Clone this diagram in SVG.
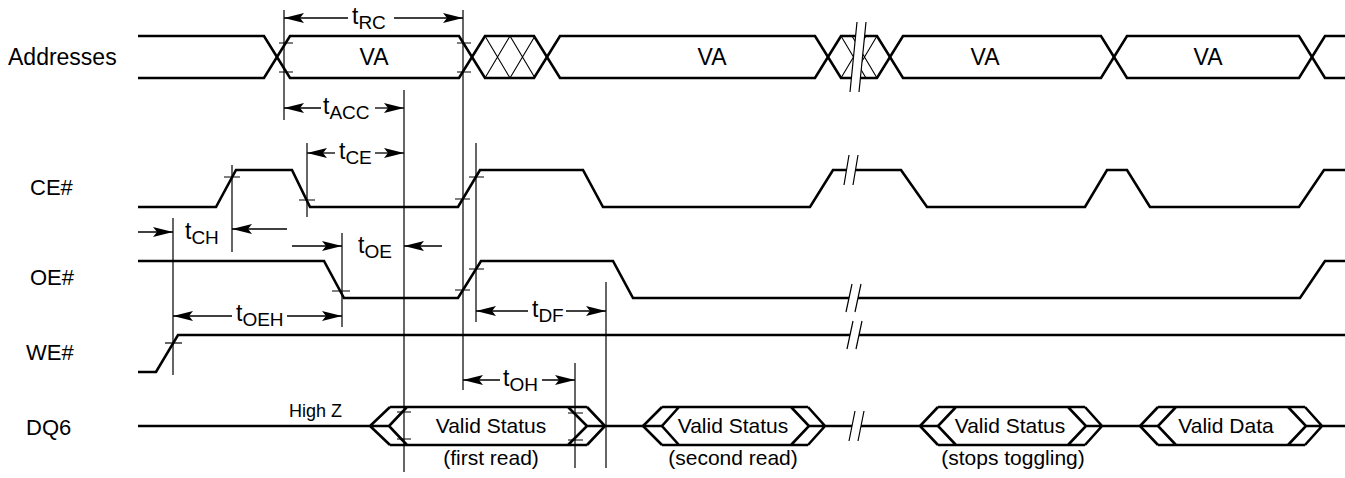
<svg xmlns="http://www.w3.org/2000/svg" width="1345" height="478" viewBox="0 0 1345 478">
<style>
.w{fill:none;stroke:#000;stroke-width:2.6;stroke-linejoin:miter;stroke-linecap:butt}
.h{fill:none;stroke:#000;stroke-width:1.1}
.t{fill:none;stroke:#000;stroke-width:1.2}
.a{fill:none;stroke:#000;stroke-width:1.3;marker-end:url(#ah)}
.lbl{font-family:"Liberation Sans",Arial,Helvetica,sans-serif;font-size:22px;fill:#000}
.tx{font-family:"Liberation Sans",Arial,Helvetica,sans-serif;font-size:21px;fill:#000;text-anchor:middle}
.va{font-family:"Liberation Sans",Arial,Helvetica,sans-serif;font-size:23px;fill:#000;text-anchor:middle}
.tt{font-family:"Liberation Sans",Arial,Helvetica,sans-serif;font-size:23px;fill:#000}
.sub{font-size:19px}
.bk{fill:#fff;stroke:none}
</style>
<defs>
<marker id="ah" viewBox="0 0 20 10" refX="20" refY="5" markerWidth="20" markerHeight="10" markerUnits="userSpaceOnUse" orient="auto">
<path d="M0,0 L20,5 L0,10 L4,5 z" fill="#000"/>
</marker>
</defs>
<rect width="1345" height="478" fill="#fff"/>

<g id="labels">
<text class="lbl" x="8" y="65" style="font-size:23px">Addresses</text>
<text class="lbl" x="30" y="195">CE#</text>
<text class="lbl" x="30" y="285">OE#</text>
<text class="lbl" x="26" y="360">WE#</text>
<text class="lbl" x="26" y="435">DQ6</text>
</g>

<g id="addresses">
<path class="h" d="M485,36 L510,78 M510,36 L485,78 M510,36 L535,78 M535,36 L510,78"/>
<path class="h" d="M841,36 L866,78 M866,36 L841,78 M852,36 L877,78 M877,36 L852,78"/>
<polyline class="w" points="138,36 264,36 290,78 459,78 485,36 534,36 560,78 815,78 841,36 877,36 903,78 1101,78 1127,36 1299,36 1325,78 1345,78"/>
<polyline class="w" points="138,78 264,78 290,36 459,36 485,78 534,78 560,36 815,36 841,78 877,78 903,36 1101,36 1127,78 1299,78 1325,36 1345,36"/>
<polygon class="bk" points="857,22 866,22 859,92 850,92"/>
<path class="t" d="M857,22 L850,92 M866,22 L859,92"/>
<path class="t" d="M279,43 H293 M279,72 H293 M457,43 H471 M457,72 H471"/>
<text class="va" x="374" y="65">VA</text>
<text class="va" x="712" y="65">VA</text>
<text class="va" x="985" y="65">VA</text>
<text class="va" x="1208" y="65">VA</text>
</g>

<g id="ce">
<polyline class="w" points="138,207 216,207 236,170 292,170 310,207 458,207 480,170 583,170 603,207 810,207 833,170 901,170 927,207 1085,207 1107,170 1127,170 1150,207 1299,207 1324,170 1345,170"/>
<polygon class="bk" points="849,155 858,155 853,185 844,185"/>
<path class="t" d="M849,155 L844,185 M858,155 L853,185"/>
<path class="t" d="M224,177 H240 M299,200 H315 M455,199 H470 M469,177 H484"/>
</g>

<g id="oe">
<polyline class="w" points="138,261 324,261 344,298 458,298 481,261 613,261 633,298 1300,298 1325,261 1345,261"/>
<polygon class="bk" points="852,284 861,284 855,312 846,312"/>
<path class="t" d="M852,284 L846,312 M861,284 L855,312"/>
<path class="t" d="M332,291 H350 M455,290 H470 M469,269 H484"/>
</g>

<g id="we">
<polyline class="w" points="138,372 156,372 178,335 1345,335"/>
<polygon class="bk" points="853,321 862,321 856,349 847,349"/>
<path class="t" d="M853,321 L847,349 M862,321 L856,349"/>
<path class="t" d="M165,343 H182"/>
</g>

<g id="dq6">
<path class="w" d="M138,426 H389 M390,407 L370,426 L390,445 M407,407 L389,426 L407,445 M390,407 H587 M390,445 H587 M568,407 L587,426 L568,445 M587,407 L605,426 L587,445 M587,426 H662"/>
<path class="w" d="M662,407 L643,426 L662,445 M679,407 L662,426 L679,445 M662,407 H808 M662,445 H808 M791,407 L809,426 L791,445 M808,407 L825,426 L808,445 M809,426 H938"/>
<path class="w" d="M938,407 L920,426 L938,445 M956,407 L938,426 L956,445 M938,407 H1085 M938,445 H1085 M1068,407 L1086,426 L1068,445 M1085,407 L1102,426 L1085,445 M1086,426 H1158"/>
<path class="w" d="M1158,407 L1140,426 L1158,445 M1176,407 L1158,426 L1176,445 M1158,407 H1305 M1158,445 H1305 M1288,407 L1306,426 L1288,445 M1305,407 L1322,426 L1305,445 M1306,426 H1345"/>
<polygon class="bk" points="855,411 864,411 858,441 849,441"/>
<path class="t" d="M855,411 L849,441 M864,411 L858,441"/>
<path class="t" d="M397,412 H411 M397,439 H411 M568,413 H583 M568,440 H583"/>
<text x="289" y="417" font-family="Liberation Sans, Arial, sans-serif" font-size="18">High Z</text>
<text class="tx" x="491" y="433">Valid Status</text>
<text class="tx" x="491" y="465">(first read)</text>
<text class="tx" x="733" y="433">Valid Status</text>
<text class="tx" x="733" y="465">(second read)</text>
<text class="tx" x="1010" y="433">Valid Status</text>
<text class="tx" x="1013" y="465">(stops toggling)</text>
<text class="tx" x="1226" y="433">Valid Data</text>
</g>

<g id="timing">
<path class="t" d="M284,10 V120 M463,10 V390 M404,90 V472 M307,143 V217 M232,165 V252 M173,218 V375 M342,233 V327 M476,143 V322 M606,282 V468 M575,363 V468"/>
<line class="a" x1="348" y1="18" x2="284" y2="18"/>
<line class="a" x1="394" y1="18" x2="463" y2="18"/>
<text class="tt" x="352" y="24">t<tspan class="sub" dy="5">RC</tspan></text>
<line class="a" x1="321" y1="108" x2="284" y2="108"/>
<line class="a" x1="375" y1="108" x2="404" y2="108"/>
<text class="tt" x="323" y="114">t<tspan class="sub" dy="5">ACC</tspan></text>
<line class="a" x1="335" y1="153" x2="307" y2="153"/>
<line class="a" x1="375" y1="153" x2="404" y2="153"/>
<text class="tt" x="339" y="159">t<tspan class="sub" dy="5">CE</tspan></text>
<line class="a" x1="138" y1="232" x2="173" y2="232"/>
<line class="a" x1="287" y1="229" x2="232" y2="229"/>
<text class="tt" x="185" y="239">t<tspan class="sub" dy="5">CH</tspan></text>
<line class="a" x1="292" y1="246" x2="342" y2="246"/>
<line class="a" x1="442" y1="246" x2="404" y2="246"/>
<text class="tt" x="358" y="253">t<tspan class="sub" dy="5">OE</tspan></text>
<line class="a" x1="232" y1="316" x2="173" y2="316"/>
<line class="a" x1="287" y1="316" x2="342" y2="316"/>
<text class="tt" x="236" y="321">t<tspan class="sub" dy="5">OEH</tspan></text>
<line class="a" x1="528" y1="311" x2="476" y2="311"/>
<line class="a" x1="566" y1="311" x2="606" y2="311"/>
<text class="tt" x="532" y="317">t<tspan class="sub" dy="5">DF</tspan></text>
<line class="a" x1="500" y1="380" x2="463" y2="380"/>
<line class="a" x1="542" y1="380" x2="575" y2="380"/>
<text class="tt" x="503" y="386">t<tspan class="sub" dy="5">OH</tspan></text>
</g>
</svg>
